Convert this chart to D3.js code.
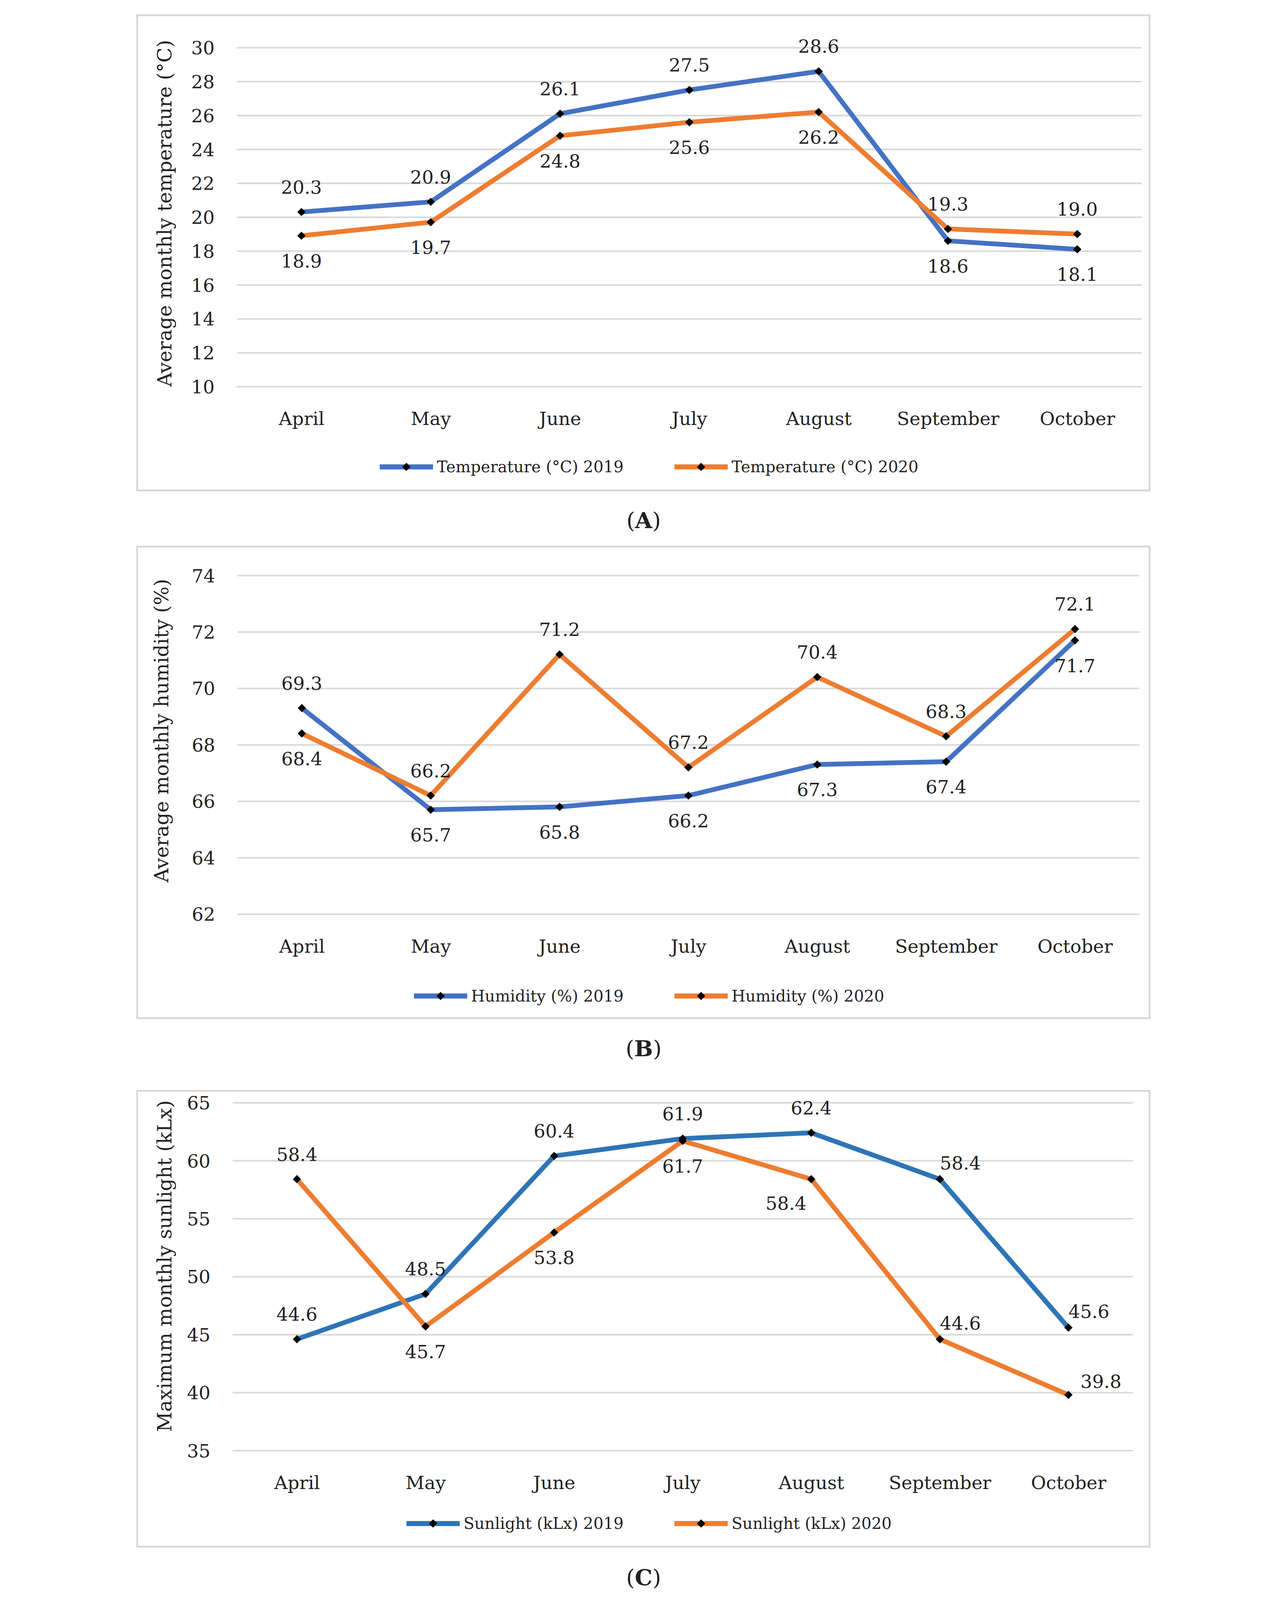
<!DOCTYPE html>
<html>
<head>
<meta charset="utf-8">
<title>Monthly temperature, humidity and sunlight 2019-2020</title>
<script src="https://cdnjs.cloudflare.com/ajax/libs/d3/7.8.5/d3.min.js"></script>
<style>
  html, body { margin: 0; padding: 0; background: #fff; overflow: hidden; }
  svg { display: block; }
  svg text { font-family: "DejaVu Serif", "Liberation Serif", serif; fill: #222; }
  .frame { fill: none; stroke: #d9d9d9; stroke-width: 6px; }
  .grid line { stroke: #d9d9d9; stroke-width: 5px; }
  .grid text { font-size: 58px; }
  .xaxis text { font-size: 58px; }
  .ytitle { font-size: 62px; }
  .dlabel { font-size: 58px; }
  .legend text { font-size: 50px; }
  .caption { font-size: 70px; }
</style>
</head>
<body>
<svg id="chart"></svg>
<script>
  // drawing size of the reference; the svg is scaled to fit the window
  const W = 3295, H = 5041;

  // categories
  const months = ["April", "May", "June", "July", "August", "September", "October"];

  // series values
  const temp2019 = [20.3, 20.9, 26.1, 27.5, 28.6, 18.6, 18.1];
  const temp2020 = [18.9, 19.7, 24.8, 25.6, 26.2, 19.3, 19.0];
  const hum2019 = [69.3, 65.7, 65.8, 66.2, 67.3, 67.4, 71.7];
  const hum2020 = [68.4, 66.2, 71.2, 67.2, 70.4, 68.3, 72.1];
  const sun2019 = [44.6, 48.5, 60.4, 61.9, 62.4, 58.4, 45.6];
  const sun2020 = [58.4, 45.7, 53.8, 61.7, 58.4, 44.6, 39.8];

  // tick labels
  const tempTicks = [10, 12, 14, 16, 18, 20, 22, 24, 26, 28, 30];
  const humTicks = [62, 64, 66, 68, 70, 72, 74];
  const sunTicks = [35, 40, 45, 50, 55, 60, 65];

  // where each data label sits relative to its point
  const tempPos2019 = ["t", "t", "t", "t", "t", "b", "b"];
  const tempPos2020 = ["b", "b", "b", "b", "b", "t", "t"];
  const humPos2019 = ["t", "b", "b", "b", "b", "b", "b"];
  const humPos2020 = ["b", "t", "t", "t", "t", "t", "t"];
  const sunPos2019 = ["t", "t", "t", "t", "t", "tr", "tr"];
  const sunPos2020 = ["t", "b", "b", "b", "bl", "tr", "r"];

  const BLUE = "#4472c4", BLUE_C = "#2e75b6", ORANGE = "#ed7d31";

  const panels = [
    { caption: "A", box: [52, 48, 3242, 1545], grid: [366, 150, 3218, 1218], ticks: tempTicks,
      title: "Average monthly temperature  (°C)", titleX: 160, titleY: 672, legendY: 1471, captionY: 1664,
      series: [
        { name: "Temperature (°C) 2019", values: temp2019, pos: tempPos2019, color: BLUE },
        { name: "Temperature (°C) 2020", values: temp2020, pos: tempPos2020, color: ORANGE }
      ] },
    { caption: "B", box: [52, 1722, 3242, 3208], grid: [368, 1813, 3210, 2880], ticks: humTicks,
      title: "Average monthly humidity  (%)", titleX: 150, titleY: 2302, legendY: 3138, captionY: 3328,
      series: [
        { name: "Humidity (%) 2019", values: hum2019, pos: humPos2019, color: BLUE },
        { name: "Humidity (%) 2020", values: hum2020, pos: humPos2020, color: ORANGE }
      ] },
    { caption: "C", box: [52, 3437, 3242, 4873], grid: [353, 3474, 3189, 4570], ticks: sunTicks,
      title: "Maximum monthly sunlight  (kLx)", titleX: 160, titleY: 3989, legendY: 4800, captionY: 4994,
      series: [
        { name: "Sunlight (kLx) 2019", values: sun2019, pos: sunPos2019, color: BLUE_C },
        { name: "Sunlight (kLx) 2020", values: sun2020, pos: sunPos2020, color: ORANGE }
      ] }
  ];

  const svg = d3.select("#chart")
    .attr("width", window.innerWidth || W)
    .attr("height", window.innerHeight || H)
    .attr("viewBox", `0 0 ${W} ${H}`)
    .attr("preserveAspectRatio", "xMidYMid meet");

  const fmt = d3.format(".1f");
  const marker = d3.symbol().type(d3.symbolSquare).size(340);

  // label offsets: [dx, dy(baseline), anchor]
  const placement = {
    t: [0, -58, "middle"],
    b: [0, 100, "middle"],
    tr: [0, -30, "start"],
    r: [38, -22, "start"],
    bl: [-15, 96, "end"]
  };

  function drawPanel(p) {
    const [bx0, by0, bx1, by1] = p.box;
    const [gx0, gy0, gx1, gy1] = p.grid;

    svg.append("rect").attr("class", "frame")
      .attr("x", bx0).attr("y", by0)
      .attr("width", bx1 - bx0).attr("height", by1 - by0);

    const x = d3.scalePoint().domain(months).range([gx0, gx1]).padding(0.5);
    const y = d3.scaleLinear().domain(d3.extent(p.ticks)).range([gy1, gy0]);

    // gridlines + y tick labels
    const ya = svg.append("g").attr("class", "grid")
      .attr("transform", `translate(${gx0},0)`)
      .call(d3.axisLeft(y).tickValues(p.ticks).tickSize(-(gx1 - gx0)).tickPadding(70));
    ya.select(".domain").remove();
    ya.selectAll("text").attr("dy", "0.36em");

    // month labels
    const xa = svg.append("g").attr("class", "xaxis")
      .attr("transform", `translate(0,${gy1})`)
      .call(d3.axisBottom(x).tickSize(0).tickPadding(80));
    xa.select(".domain").remove();

    // y title
    svg.append("text").attr("class", "ytitle")
      .attr("transform", `translate(${p.titleX},${p.titleY}) rotate(-90)`)
      .attr("text-anchor", "middle")
      .text(p.title);

    const line = d3.line()
      .x((d, i) => x(months[i]))
      .y(d => y(d));

    p.series.forEach(s => {
      svg.append("path")
        .attr("d", line(s.values))
        .attr("fill", "none")
        .attr("stroke", s.color)
        .attr("stroke-width", 15)
        .attr("stroke-linejoin", "round")
        .attr("stroke-linecap", "round");
    });

    p.series.forEach(s => {
      svg.append("g").selectAll("path")
        .data(s.values)
        .join("path")
        .attr("d", marker)
        .attr("fill", "#000")
        .attr("transform", (d, i) => `translate(${x(months[i])},${y(d)}) rotate(45)`);

      svg.append("g").selectAll("text")
        .data(s.values)
        .join("text")
        .attr("class", "dlabel")
        .attr("x", (d, i) => x(months[i]) + placement[s.pos[i]][0])
        .attr("y", (d, i) => y(d) + placement[s.pos[i]][1])
        .attr("text-anchor", (d, i) => placement[s.pos[i]][2])
        .text(d => fmt(d));
    });

    // legend
    const lg = svg.append("g").attr("class", "legend");
    const items = lg.selectAll("g").data(p.series).join("g");
    items.append("line")
      .attr("x1", 0).attr("x2", 168)
      .attr("stroke", d => d.color).attr("stroke-width", 16);
    items.append("path")
      .attr("d", marker)
      .attr("transform", "translate(84,0) rotate(45)")
      .attr("fill", "#000");
    items.append("text")
      .attr("x", 180).attr("dy", "0.34em")
      .text(d => d.name);

    let cx = 0;
    items.each(function () {
      const w = 180 + d3.select(this).select("text").node().getComputedTextLength();
      d3.select(this).attr("data-x", cx);
      cx += w + 160;
    });
    const total = cx - 160;
    const start = 1665 - total / 2;
    items.attr("transform", function () {
      return `translate(${start + (+this.getAttribute("data-x"))},${p.legendY})`;
    });

    // caption
    const cap = svg.append("text").attr("class", "caption")
      .attr("x", 1648).attr("y", p.captionY).attr("text-anchor", "middle");
    cap.append("tspan").text("(");
    cap.append("tspan").attr("font-weight", "bold").text(p.caption);
    cap.append("tspan").text(")");
  }

  panels.forEach(drawPanel);
</script>
</body>
</html>
